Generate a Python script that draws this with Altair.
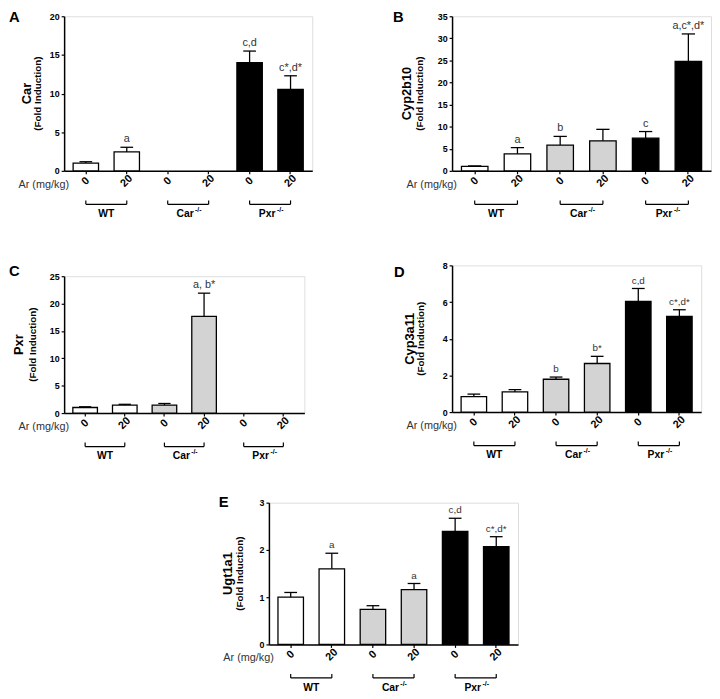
import altair as alt
import pandas as pd

FONT = "Liberation Sans"

categories = ["WT_0", "WT_20", "Car_0", "Car_20", "Pxr_0", "Pxr_20"]
genotype = ["WT", "WT", "Car", "Car", "Pxr", "Pxr"]
group_first = ["WT_0", "Car_0", "Pxr_0"]
group_second = ["WT_20", "Car_20", "Pxr_20"]
group_names = ["WT", "Car", "Pxr"]
group_sup = ["", "-/-", "-/-"]

car_mean = [1.0, 2.45, None, None, 14.0, 10.55]
car_err = [0.18, 0.6, None, None, 1.5, 1.75]
car_sig = ["", "a", "", "", "c,d", "c*,d*"]

cyp2b10_mean = [1.0, 3.85, 5.85, 6.8, 7.4, 24.8]
cyp2b10_err = [0.12, 1.4, 1.95, 2.6, 1.5, 6.2]
cyp2b10_sig = ["", "a", "b", "", "c", "a,c*,d*"]

pxr_mean = [1.02, 1.45, 1.45, 17.65, None, None]
pxr_err = [0.13, 0.15, 0.3, 4.25, None, None]
pxr_sig = ["", "", "", "a, b*", "", ""]

cyp3a11_mean = [0.84, 1.1, 1.79, 2.65, 6.03, 5.22]
cyp3a11_err = [0.14, 0.13, 0.12, 0.39, 0.71, 0.36]
cyp3a11_sig = ["", "", "b", "b*", "c,d", "c*,d*"]

ugt1a1_mean = [1.0, 1.6, 0.74, 1.16, 2.39, 2.07]
ugt1a1_err = [0.1, 0.33, 0.08, 0.13, 0.28, 0.21]
ugt1a1_sig = ["", "a", "", "a", "c,d", "c*,d*"]

P_IN, P_OUT = 0.38, 0.22


def panel(letter, gene, means, errs, sigs, width, height, ymax, ystep,
          letter_xy, gene_x, fold_x, ann_size):
    rows = []
    for c, g, m, e, s in zip(categories, genotype, means, errs, sigs):
        if m is None:
            continue
        rows.append({"cat": c, "geno": g, "mean": m, "top": m + e, "sig": s})
    df = pd.DataFrame(rows)
    step = width / (6 - P_IN + 2 * P_OUT)
    bw = step * (1 - P_IN)

    xscale = alt.Scale(domain=categories, paddingInner=P_IN, paddingOuter=P_OUT)
    xaxis = alt.Axis(title=None, labelExpr="split(datum.label, '_')[1]",
                     labelAngle=315, labelAlign="center", labelBaseline="middle",
                     labelPadding=7, tickSize=3, labelFontSize=11,
                     labelFontWeight="bold", labelOverlap=False, domainWidth=1.5,
                     tickWidth=1.2, domainColor="black", tickColor="black",
                     labelColor="black", labelFont=FONT)
    xenc = alt.X("cat:N", scale=xscale, axis=xaxis, sort=None)
    yscale = alt.Scale(domain=[0, ymax], nice=False, zero=True)
    yaxis = alt.Axis(title=None, values=list(range(0, ymax + 1, ystep)),
                     tickSize=3, labelFontSize=9, labelFontWeight="bold",
                     grid=False, labelPadding=2, domainWidth=1.5, tickWidth=1.2,
                     domainColor="black", tickColor="black", labelColor="black",
                     labelFont=FONT)

    base = alt.Chart(df)
    bars = base.mark_bar(stroke="black", strokeWidth=1.3).encode(
        x=xenc,
        y=alt.Y("mean:Q", scale=yscale, axis=yaxis),
        fill=alt.Fill("geno:N", scale=alt.Scale(domain=["WT", "Car", "Pxr"],
                                                 range=["#ffffff", "#d3d3d3", "#000000"]),
                      legend=None),
    )
    err = base.mark_rule(color="black", strokeWidth=1.3).encode(
        x=xenc, y=alt.Y("mean:Q", scale=yscale, axis=yaxis), y2="top:Q")
    cap = base.mark_tick(color="black", thickness=1.3, size=bw * 0.5, opacity=1).encode(
        x=xenc, y=alt.Y("top:Q", scale=yscale, axis=yaxis))
    ann = base.mark_text(baseline="bottom", dy=-3, fontSize=ann_size, font=FONT,
                         color="#333333").encode(
        x=xenc, y=alt.Y("top:Q", scale=yscale, axis=yaxis), text="sig:N")

    one = alt.Chart(pd.DataFrame({"k": [0]}))
    let = one.mark_text(text=letter, align="left", baseline="top",
                        fontSize=15, fontWeight="bold", font=FONT, color="black").encode(
        x=alt.value(letter_xy[0]), y=alt.value(letter_xy[1]))
    t_gene = one.mark_text(text=gene, angle=270, align="center", baseline="middle",
                           fontSize=13, fontWeight="bold", font=FONT, color="black").encode(
        x=alt.value(gene_x), y=alt.value(height / 2))
    t_fold = one.mark_text(text="(Fold Induction)", angle=270, align="center",
                           baseline="middle", fontSize=10, fontWeight="bold", font=FONT,
                           color="black").encode(
        x=alt.value(fold_x), y=alt.value(height / 2))
    ar = one.mark_text(text="Ar (mg/kg)", align="right", baseline="middle",
                       fontSize=11, font=FONT, color="#333333").encode(
        x=alt.value(5), y=alt.value(height + 14))

    gdf = pd.DataFrame({"cat": group_first, "cat2": group_second,
                        "name": group_names, "sup": group_sup})
    gbase = alt.Chart(gdf)
    bracket = gbase.mark_rule(color="black", strokeWidth=1.2).encode(
        x=xenc, x2="cat2:N", y=alt.value(height + 34))
    ends = alt.Chart(pd.DataFrame({"cat": categories})).mark_rule(
        color="black", strokeWidth=1.2).encode(
        x=xenc, y=alt.value(height + 34), y2=alt.value(height + 30))
    wt_lab = gbase.transform_filter("datum.sup == ''").mark_text(
        dx=step / 2, baseline="middle", fontSize=10.5, fontWeight="bold", font=FONT,
        color="black").encode(x=xenc, y=alt.value(height + 44), text="name:N")
    ko_lab = gbase.transform_filter("datum.sup != ''").mark_text(
        dx=step / 2 - 3, baseline="middle", fontSize=10.5, fontWeight="bold", font=FONT,
        color="black").encode(x=xenc, y=alt.value(height + 44), text="name:N")
    ko_sup = gbase.transform_filter("datum.sup != ''").mark_text(
        dx=step / 2 + 7, align="left", baseline="middle", fontSize=7, fontWeight="bold",
        font=FONT, color="black").encode(x=xenc, y=alt.value(height + 40), text="sup:N")

    return alt.layer(bars, err, cap, ann, let, t_gene, t_fold, ar, bracket, ends,
                     wt_lab, ko_lab, ko_sup).properties(width=width, height=height)


pA = panel("A", "Car", car_mean, car_err, car_sig, 252, 157, 20, 5, (-56, -6), -38, -26, 11)
pB = panel("B", "Cyp2b10", cyp2b10_mean, cyp2b10_err, cyp2b10_sig, 263, 157, 35, 5,
           (-60, -6), -46, -33, 11)
pC = panel("C", "Pxr", pxr_mean, pxr_err, pxr_sig, 244, 139, 25, 5, (-56, -12), -46, -32, 11)
pD = panel("D", "Cyp3a11", cyp3a11_mean, cyp3a11_err, cyp3a11_sig, 253, 149, 8, 2,
           (-59, 0), -43, -32, 10)
pE = panel("E", "Ugt1a1", ugt1a1_mean, ugt1a1_err, ugt1a1_sig, 253, 144, 3, 1,
           (-51, -8), -41, -29, 10)

spacer = alt.Chart(pd.DataFrame({"t": [""]})).mark_text().encode(
    text="t:N").properties(width=107, height=144)

col1 = alt.vconcat(pA, pC, spacing=107, bounds="flush")
col2 = alt.vconcat(pB, pD, spacing=96, bounds="flush")
row12 = alt.hconcat(col1, col2, spacing=80)
row3 = alt.hconcat(spacer, pE, spacing=101, bounds="flush")

chart = alt.vconcat(row12, row3, spacing=32).properties(
    padding={"top": -4, "left": 0, "right": 0, "bottom": 0}
).configure_view(stroke=None).configure(font=FONT)

chart.save("out.html", embed_options={"renderer": "svg", "actions": False})
